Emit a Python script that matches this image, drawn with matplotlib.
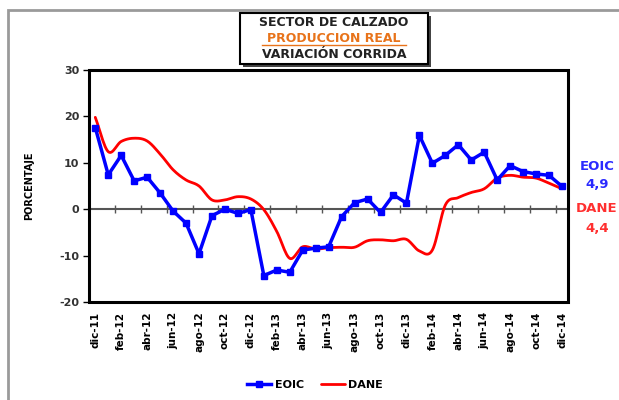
import numpy as np
import matplotlib
matplotlib.use("Agg")
import matplotlib.pyplot as plt
from matplotlib.patches import Rectangle

months = ["dic-11", "ene-12", "feb-12", "mar-12", "abr-12", "may-12", "jun-12", "jul-12",
          "ago-12", "sep-12", "oct-12", "nov-12", "dic-12", "ene-13", "feb-13", "mar-13",
          "abr-13", "may-13", "jun-13", "jul-13", "ago-13", "sep-13", "oct-13", "nov-13",
          "dic-13", "ene-14", "feb-14", "mar-14", "abr-14", "may-14", "jun-14", "jul-14",
          "ago-14", "sep-14", "oct-14", "nov-14", "dic-14"]

eoic = [17.6, 7.4, 11.6, 6.1, 6.9, 3.5, -0.4, -3.0, -9.6, -1.4, 0.0, -0.9, -0.1,
        -14.3, -13.1, -13.6, -8.8, -8.4, -8.1, -1.6, 1.4, 2.2, -0.7, 3.1, 1.3,
        15.9, 9.9, 11.6, 13.9, 10.6, 12.3, 6.3, 9.4, 8.1, 7.6, 7.3, 4.9]

dane = [19.8, 12.4, 14.6, 15.3, 14.7, 11.9, 8.5, 6.3, 5.0, 2.0, 2.0, 2.7, 2.2,
        -0.1, -4.8, -10.6, -8.1, -8.6, -8.3, -8.2, -8.2, -6.8, -6.6, -6.8, -6.5,
        -9.0, -8.8, 0.9, 2.5, 3.6, 4.4, 6.7, 7.3, 6.9, 6.7, 5.6, 4.4]

title_lines = ["SECTOR DE CALZADO", "PRODUCCION REAL", "VARIACIÓN CORRIDA"]
y_ticks = [30, 20, 10, 0, -10, -20]

BLUE = "#0000FF"
RED = "#FF0000"
DARK = "#333333"


def smooth(xs, ys, n=12):
    # Catmull-Rom rendering of the series (Excel "smoothed line" look)
    xs = np.asarray(xs, float)
    ys = np.asarray(ys, float)
    px = np.concatenate([[2 * xs[0] - xs[1]], xs, [2 * xs[-1] - xs[-2]]])
    py = np.concatenate([[2 * ys[0] - ys[1]], ys, [2 * ys[-1] - ys[-2]]])
    ox, oy = [], []
    t = np.linspace(0, 1, n, endpoint=False)
    for i in range(1, len(px) - 2):
        for P, out in ((px, ox), (py, oy)):
            p0, p1, p2, p3 = P[i - 1], P[i], P[i + 1], P[i + 2]
            v = 0.5 * ((2 * p1) + (-p0 + p2) * t + (2 * p0 - 5 * p1 + 4 * p2 - p3) * t ** 2
                       + (-p0 + 3 * p1 - 3 * p2 + p3) * t ** 3)
            out.extend(v)
    ox.append(xs[-1])
    oy.append(ys[-1])
    return np.array(ox), np.array(oy)


W, H = 619, 400
fig = plt.figure(figsize=(W / 100, H / 100), dpi=100)
fig.patch.set_facecolor("white")

# outer chart-area frame
fig.patches.append(Rectangle((8 / W, -0.2), 1.2, 1 - 10 / H + 0.2, transform=fig.transFigure,
                             fill=False, edgecolor="#9a9a9a", linewidth=2))

ax = fig.add_axes([88.8 / W, 1 - 302 / H, (568.5 - 88.8) / W, (302 - 70) / H])
x = np.arange(len(months))

sx, sy = smooth(x, dane)
ax.plot(sx, sy, color=RED, lw=2, zorder=3, label="DANE", solid_capstyle="round")
ax.plot(x, eoic, color=BLUE, lw=2.5, marker="s", markersize=5, zorder=4, label="EOIC")

ax.set_xlim(-0.5, len(months) - 0.5)
ax.set_ylim(-20, 30)

for s in ["top", "right", "left"]:
    ax.spines[s].set_visible(False)
ax.spines["bottom"].set_position(("data", 0))
ax.spines["bottom"].set_color("#555555")
ax.spines["bottom"].set_linewidth(1.5)
ax.set_xticks(np.arange(1.5, len(months) - 0.5, 2))
ax.tick_params(axis="x", direction="inout", length=6, width=1, color="#555555", labelbottom=False)

ax.add_patch(Rectangle((0, 0), 1, 1, transform=ax.transAxes, fill=False,
                       edgecolor="black", linewidth=2.2, clip_on=False, zorder=5))

ax.set_yticks(y_ticks)
ax.set_yticklabels([str(v) for v in y_ticks], fontsize=8, fontweight="bold", color=DARK)
ax.tick_params(axis="y", direction="out", length=4, width=1, pad=3)

sec = ax.secondary_xaxis(0)
sec.set_xticks(x[::2])
sec.set_xticklabels(months[::2], rotation=90, fontsize=7.5, fontweight="bold", color="black")
sec.tick_params(length=0, pad=7)
sec.spines["bottom"].set_visible(False)

ax.set_ylabel("PORCENTAJE", fontsize=7, fontweight="bold", color="black", labelpad=18)

# title box with shadow
fig.patches.append(Rectangle((240 / W, 1 - 64 / H), 188 / W, 51 / H, transform=fig.transFigure,
                             fill=True, facecolor="white", edgecolor="black", linewidth=1.5, zorder=2))
fig.patches.append(Rectangle((243 / W, 1 - 67 / H), 188 / W, 51 / H, transform=fig.transFigure,
                             fill=True, facecolor="#444444", edgecolor="none", zorder=1))
fig.text(334 / W, 1 - 22 / H, title_lines[0], ha="center", va="center", fontsize=9,
         fontweight="heavy", color="#222222", zorder=3)
fig.text(334 / W, 1 - 38 / H, title_lines[1], ha="center", va="center", fontsize=9,
         fontweight="heavy", color="#E8731A", zorder=3)
fig.add_artist(plt.Line2D([262 / W, 406 / W], [1 - 45 / H, 1 - 45 / H], transform=fig.transFigure,
                          color="#E8731A", lw=1, zorder=3))
fig.text(334 / W, 1 - 54 / H, title_lines[2], ha="center", va="center", fontsize=9,
         fontweight="heavy", color="#222222", zorder=3)

# right-side end labels
fig.text(597 / W, 1 - 166 / H, "EOIC", ha="center", va="center", fontsize=9.5, fontweight="bold", color="#2A2AFF")
fig.text(597 / W, 1 - 185 / H, f"{eoic[-1]:.1f}".replace(".", ","), ha="center", va="center",
         fontsize=9.5, fontweight="bold", color="#2A2AFF")
fig.text(597 / W, 1 - 209 / H, "DANE", ha="center", va="center", fontsize=9.5, fontweight="bold", color="#FF3030")
fig.text(597 / W, 1 - 229 / H, f"{dane[-1]:.1f}".replace(".", ","), ha="center", va="center",
         fontsize=9.5, fontweight="bold", color="#FF3030")

handles, labels = ax.get_legend_handles_labels()
order = [1, 0]
fig.legend([handles[i] for i in order], [labels[i] for i in order], loc="center",
           bbox_to_anchor=(315 / W, 1 - 385 / H), ncol=2, frameon=False,
           prop={"size": 8, "weight": "bold"}, handlelength=2.2, columnspacing=1.5, handletextpad=0.3)

fig.savefig("out.png", dpi=100)
